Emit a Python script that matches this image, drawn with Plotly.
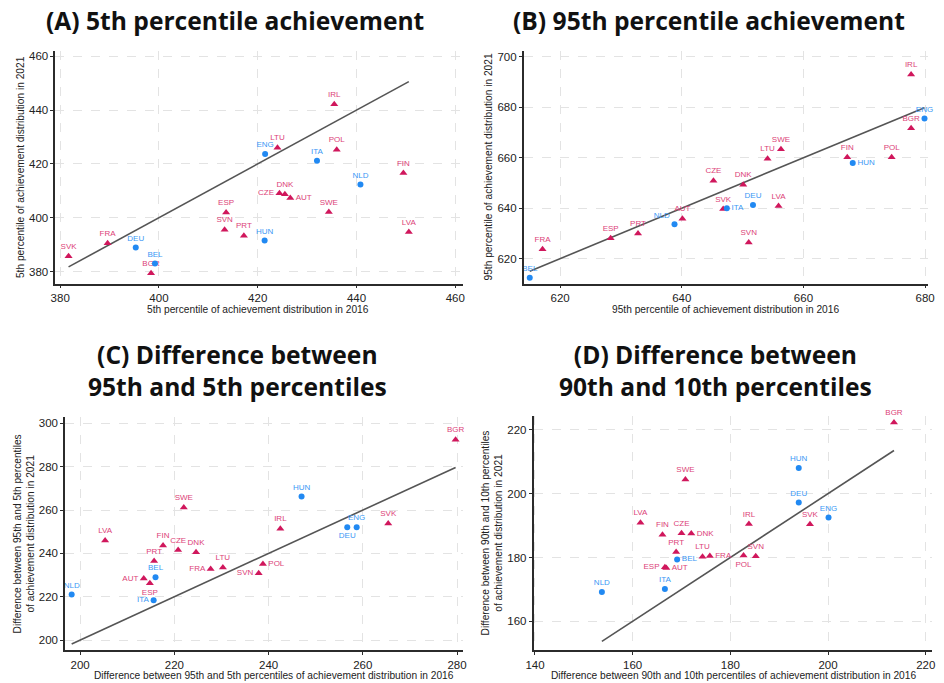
import plotly.graph_objects as go

countries = ["AUT","BEL","BGR","CZE","DEU","DNK","ENG","ESP","FIN","FRA","HUN",
             "IRL","ITA","LTU","LVA","NLD","POL","PRT","SVK","SVN","SWE"]
blue_group = ["BEL","DEU","ENG","HUN","ITA","NLD"]

# Panel A: 5th percentile
p5_2016 = [426.6,399.2,398.4,424.4,395.3,425.5,421.5,413.6,449.5,389.6,421.4,
           435.5,432.0,424.0,450.6,440.8,436.0,417.2,381.7,413.3,434.4]
p5_2021 = [407.3,383.0,379.3,409.1,388.9,408.7,423.7,401.9,416.6,390.5,391.5,
           442.2,421.2,426.0,394.7,412.3,425.3,393.3,385.7,395.5,402.1]
# Panel B: 95th percentile
p95_2016 = [640.1,615.0,677.7,645.2,651.7,650.1,679.9,628.3,667.2,617.1,668.1,
            677.7,647.4,654.1,655.9,638.8,674.5,632.8,646.8,651.0,656.3]
p95_2021 = [635.8,612.4,671.7,650.9,641.3,649.3,675.6,628.1,660.2,623.7,657.9,
            693.0,640.0,659.6,640.9,633.6,660.2,630.0,639.7,626.4,663.4]
# Panel C: 95th - 5th
d955_2016 = [213.5,216.0,279.7,220.8,256.7,224.6,258.7,214.8,217.6,227.7,247.0,
             242.5,215.6,230.3,205.3,198.2,238.8,215.7,265.4,237.9,222.0]
d955_2021 = [228.4,229.0,292.5,241.6,252.1,240.5,252.1,226.2,243.7,232.8,266.3,
             251.4,218.4,233.5,246.0,221.0,235.1,236.5,253.8,230.8,261.2]
# Panel D: 90th - 10th
d9010_2016 = [166.9,169.1,213.5,170.0,194.0,172.0,200.1,166.6,166.1,175.8,194.0,
              183.8,166.6,174.3,161.6,153.7,182.7,168.9,196.3,185.2,170.8]
d9010_2021 = [176.7,179.4,222.3,187.6,197.2,187.5,192.5,176.9,187.1,180.5,208.0,
              190.5,170.1,180.2,190.9,169.2,180.6,181.7,190.4,180.4,204.4]

PINK = "#d0175c"
BLUE = "#2189f2"
PINK_T = "#dc3f78"
BLUE_T = "#3b98f5"

W, H = 944, 683

panels = [
    dict(x=p5_2016, y=p5_2021, ax="", xr=[379, 461.5], yr=[375.5, 462],
         px=(48, 462), py=(50, 283), xt=[380,400,420,440,460], yt=[380,400,420,440,460],
         pos={"CZE":"middle left","AUT":"middle right"},
         title="<b>(A) 5th percentile achievement</b>", tx=231, ty=20,
         xtitle="5th percentile of achievement distribution in 2016", xtx=254, xty=309,
         ytitle="5th percentile of achievement distribution in 2021", ytx=12),
    dict(x=p95_2016, y=p95_2021, ax="2", xr=[614, 680.5], yr=[610.1, 702.4],
         px=(524, 935), py=(50, 283), xt=[620,640,660,680], yt=[620,640,660,680,700],
         pos={"HUN":"middle right","ITA":"middle right","NLD":"top left"},
         title="<b>(B) 95th percentile achievement</b>", tx=712, ty=20,
         xtitle="95th percentile of achievement distribution in 2016", xtx=729, xty=309,
         ytitle="95th percentile of achievement distribution in 2021", ytx=488),
    dict(x=d955_2016, y=d955_2021, ax="3", xr=[196.8, 281.2], yr=[195.4, 302.8],
         px=(58, 462), py=(417, 650), xt=[200,220,240,260,280], yt=[200,220,240,260,280,300],
         pos={"AUT":"middle left","FRA":"middle left","SVN":"middle left","POL":"middle right",
              "ESP":"bottom center","ITA":"middle left","DEU":"bottom center"},
         title="<b>(C) Difference between<br>95th and 5th percentiles</b>", tx=233, ty=370,
         xtitle="Difference between 95th and 5th percentiles of achievement distribution in 2016",
         xtx=270, xty=675,
         ytitle="Difference between 95th and 5th percentiles<br>of achievement distribution in 2021",
         ytx=16),
    dict(x=d9010_2016, y=d9010_2021, ax="4", xr=[139.7, 221.3], yr=[151.0, 224.2],
         px=(534, 939), py=(416, 650), xt=[140,160,180,200,220], yt=[160,180,200,220],
         pos={"DNK":"middle right","BEL":"middle right","ESP":"middle left","AUT":"middle right",
              "FRA":"middle right","POL":"bottom center"},
         title="<b>(D) Difference between<br>90th and 10th percentiles</b>", tx=719, ty=370,
         xtitle="Difference between 90th and 10th percentiles of achievement distribution in 2016",
         xtx=737, xty=675,
         ytitle="Difference between 90th and 10th percentiles<br>of achievement distribution in 2021",
         ytx=492),
]

fig = go.Figure()
annotations = []
layout_axes = {}

for p in panels:
    xa = "x" + p["ax"]
    ya = "y" + p["ax"]
    # 45-degree line
    lo, hi = min(p["x"]), max(p["x"])
    fig.add_trace(go.Scatter(x=[lo, hi], y=[lo, hi], mode="lines",
                             line=dict(color="#555555", width=1.6),
                             xaxis=xa, yaxis=ya, showlegend=False, hoverinfo="skip"))
    for grp, col, tcol, sym, size in [(False, PINK, PINK_T, "triangle-up", 7),
                                      (True, BLUE, BLUE_T, "circle", 6)]:
        idx = [i for i, c in enumerate(countries) if (c in blue_group) == grp]
        fig.add_trace(go.Scatter(
            x=[p["x"][i] for i in idx], y=[p["y"][i] for i in idx],
            text=[countries[i] for i in idx],
            textposition=[p["pos"].get(countries[i], "top center") for i in idx],
            mode="markers+text",
            marker=dict(color=col, symbol=sym, size=size),
            textfont=dict(color=tcol, size=8, family="Liberation Sans, Arial"),
            xaxis=xa, yaxis=ya, showlegend=False, cliponaxis=False))
    xd = [p["px"][0] / W, p["px"][1] / W]
    yd = [1 - p["py"][1] / H, 1 - p["py"][0] / H]
    axcommon = dict(showgrid=True, gridcolor="#e3e3e3", griddash="dash", gridwidth=1,
                    zeroline=False, showline=True, linecolor="#2b2b2b", linewidth=1.5,
                    ticks="outside", ticklen=3, tickcolor="#2b2b2b",
                    tickfont=dict(size=11.5, color="#222222", family="Liberation Sans, Arial"))
    layout_axes["xaxis" + p["ax"]] = dict(domain=xd, range=p["xr"], tickvals=p["xt"],
                                          anchor=ya, **axcommon)
    layout_axes["yaxis" + p["ax"]] = dict(domain=yd, range=p["yr"], tickvals=p["yt"],
                                          anchor=xa, **axcommon)
    annotations.append(dict(text=p["title"], x=p["tx"] / W, y=1 - p["ty"] / H,
                            xref="paper", yref="paper", showarrow=False,
                            xanchor="center", yanchor="middle",
                            font=dict(size=24.6, color="#111111", family="Open Sans")))
    annotations.append(dict(text=p["xtitle"], x=p["xtx"] / W, y=1 - p["xty"] / H,
                            xref="paper", yref="paper", showarrow=False,
                            xanchor="center", yanchor="middle",
                            font=dict(size=10.2, color="#222222", family="Liberation Sans, Arial")))
    ymid = 1 - (p["py"][0] + p["py"][1]) / 2 / H
    annotations.append(dict(text=p["ytitle"], x=p["ytx"] / W, y=ymid,
                            xref="paper", yref="paper", showarrow=False, textangle=-90,
                            xanchor="center", yanchor="middle",
                            font=dict(size=10.2, color="#222222", family="Liberation Sans, Arial")))

fig.update_layout(width=W, height=H, margin=dict(l=0, r=0, t=0, b=0),
                  paper_bgcolor="white", plot_bgcolor="white",
                  annotations=annotations, **layout_axes)

fig.write_html("out.html")
